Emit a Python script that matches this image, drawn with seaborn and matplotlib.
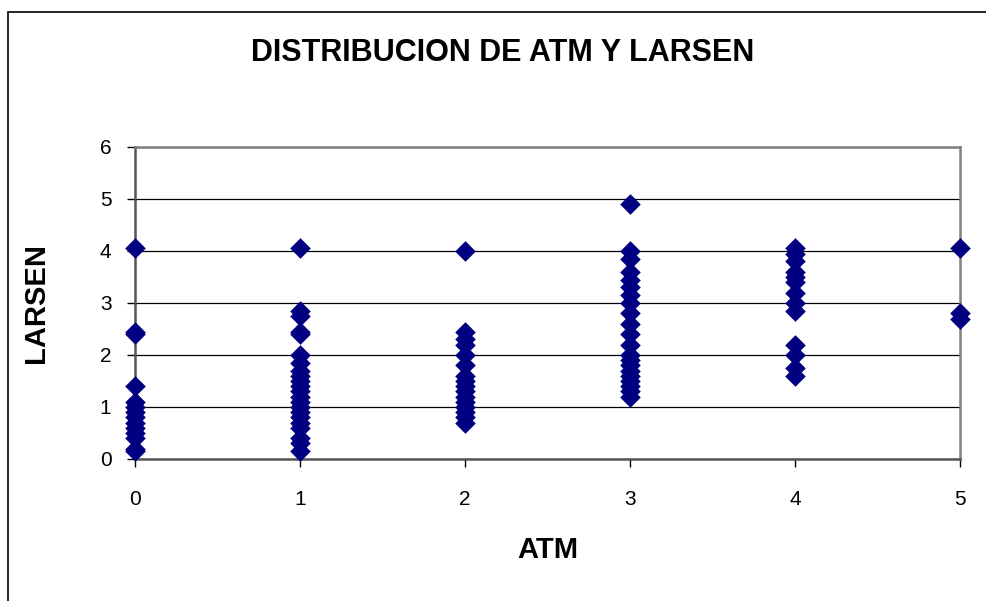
import matplotlib
matplotlib.use("Agg")
import matplotlib.pyplot as plt
import seaborn as sns
import pandas as pd
from matplotlib.patches import Rectangle

atm_0 = [4.05, 2.45, 2.4, 1.4, 1.1, 1.0, 0.9, 0.8, 0.7, 0.6, 0.5, 0.4, 0.2, 0.15]
atm_1 = [4.05, 2.85, 2.75, 2.45, 2.4, 2.0, 1.85, 1.7, 1.6, 1.5, 1.4, 1.3, 1.2,
         1.1, 1.0, 0.9, 0.8, 0.7, 0.6, 0.4, 0.3, 0.15]
atm_2 = [4.0, 2.45, 2.3, 2.2, 2.0, 1.8, 1.6, 1.5, 1.4, 1.3, 1.2, 1.1, 1.0, 0.9, 0.8, 0.7]
atm_3 = [4.9, 4.0, 3.85, 3.6, 3.45, 3.3, 3.15, 3.0, 2.8, 2.6, 2.4, 2.2, 2.0, 1.9,
         1.8, 1.7, 1.6, 1.5, 1.4, 1.3, 1.2]
atm_4 = [4.05, 3.95, 3.8, 3.6, 3.5, 3.4, 3.2, 3.0, 2.85, 2.2, 2.0, 1.75, 1.6]
atm_5 = [4.05, 2.8, 2.7]

x_ticks = [0, 1, 2, 3, 4, 5]
y_ticks = [0, 1, 2, 3, 4, 5, 6]

groups = [atm_0, atm_1, atm_2, atm_3, atm_4, atm_5]
rows = []
for atm, vals in zip(x_ticks, groups):
    for v in vals:
        rows.append({"ATM": atm, "LARSEN": v})
df = pd.DataFrame(rows)

sns.set_style("white")
plt.rcParams["font.family"] = ["Liberation Sans", "DejaVu Sans"]
plt.rcParams["text.color"] = "black"
plt.rcParams["axes.labelcolor"] = "black"
plt.rcParams["xtick.color"] = "black"
plt.rcParams["ytick.color"] = "black"

fig = plt.figure(figsize=(9.87, 6.01), dpi=100)
ax = fig.add_axes([135 / 987, 1 - 459 / 601, 825 / 987, 312 / 601])

ax.yaxis.grid(True, color="black", linewidth=0.9)
ax.set_axisbelow(True)

sns.scatterplot(data=df, x="ATM", y="LARSEN", marker="D", s=110, color="#000080",
                linewidth=0, ax=ax, clip_on=False, zorder=5)

ax.set_xlim(0, 5)
ax.set_ylim(0, 6)
ax.set_xticks(x_ticks)
ax.set_yticks(y_ticks)
ax.tick_params(axis="both", labelsize=15, length=6, width=1, color="black",
               labelcolor="black", direction="out", bottom=True, left=True)
ax.tick_params(axis="x", pad=16)
ax.tick_params(axis="y", pad=11)

for side in ["top", "right", "bottom", "left"]:
    ax.spines[side].set_visible(True)
    ax.spines[side].set_color("#808080")
    ax.spines[side].set_linewidth(1.8)
ax.spines["left"].set_color("#555555")
ax.spines["bottom"].set_color("#555555")

ax.set_xlabel("ATM", fontsize=21, fontweight="bold", labelpad=20, color="black")
ax.set_ylabel("LARSEN", fontsize=21, fontweight="bold", labelpad=36, color="black")

fig.text(503 / 987, 1 - 53 / 601, "DISTRIBUCION DE ATM Y LARSEN", fontsize=22,
         fontweight="bold", ha="center", va="center", color="black")

fig.patches.append(Rectangle((8 / 987, -0.1), 1.2, 1 - 12 / 601 + 0.1,
                             transform=fig.transFigure, fill=False,
                             edgecolor="black", linewidth=1.2))

fig.savefig("out.png", dpi=100)
